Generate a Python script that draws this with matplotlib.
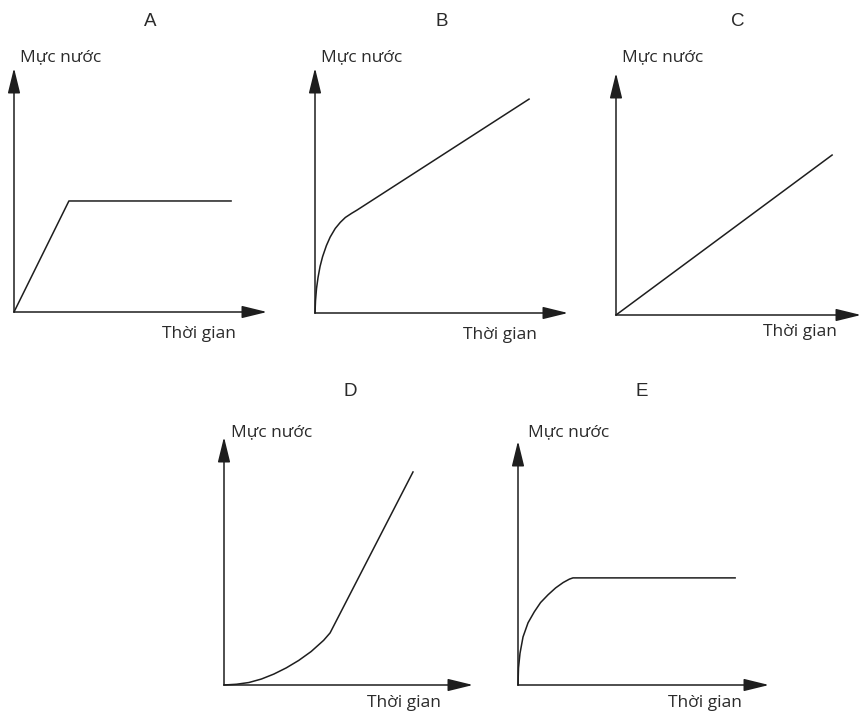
import matplotlib
matplotlib.use("Agg")
import matplotlib.pyplot as plt

W, H = 863, 716

panel_names = ["A", "B", "C", "D", "E"]
y_label = "Mực nước"
x_label = "Thời gian"

# curves, normalised to each panel's axis lengths (time fraction, level fraction)
time_A = [0.0, 0.217, 0.858]
level_A = [0.0, 0.455, 0.455]

time_B = [0.0, 0.002, 0.006, 0.012, 0.02, 0.03, 0.045, 0.06, 0.08, 0.1, 0.12, 0.145, 0.166, 0.846]
level_B = [0.0, 0.05, 0.1, 0.145, 0.19, 0.23, 0.275, 0.31, 0.345, 0.37, 0.39, 0.407, 0.42, 0.873]

time_C = [0.0, 0.882]
level_C = [0.0, 0.661]

time_D = [0.0, 0.05, 0.1, 0.15, 0.2, 0.25, 0.3, 0.35, 0.4, 0.426, 0.759]
level_D = [0.0, 0.003, 0.01, 0.024, 0.044, 0.069, 0.099, 0.135, 0.18, 0.21, 0.859]

time_E = [0.0, 0.002, 0.008, 0.02, 0.04, 0.065, 0.09, 0.12, 0.15, 0.18, 0.205, 0.219, 0.865]
level_E = [0.0, 0.07, 0.13, 0.197, 0.255, 0.30, 0.338, 0.37, 0.398, 0.42, 0.434, 0.439, 0.439]

curves = [(time_A, level_A), (time_B, level_B), (time_C, level_C),
          (time_D, level_D), (time_E, level_E)]

# layout in pixels: origin x, origin y, x-arrow tip, y-arrow tip
boxes = [
    (14, 312, 267, 68),
    (315, 313, 568, 68),
    (616, 315, 861, 73),
    (224, 685, 473, 437),
    (518, 685, 769, 441),
]
title_pos = [(150, 21), (442, 21), (738, 21), (350, 391), (642, 391)]
ylab_pos = [(20, 57), (321, 57), (622, 57), (231, 432), (528, 432)]
xlab_pos = [(162, 334), (463, 335), (763, 332), (367, 703), (668, 703)]

plt.rcParams['font.family'] = ['Open Sans', 'DejaVu Sans']

fig = plt.figure(figsize=(W / 100, H / 100), dpi=100)
fig.patch.set_facecolor("white")

ink = "#1e1e1e"
txt = "#2a2a2a"

for i, name in enumerate(panel_names):
    ox, oy, xt, yt = boxes[i]
    ax = fig.add_axes([ox / W, 1 - oy / H, (xt - ox) / W, (oy - yt) / H])
    ax.set_xlim(0, 1)
    ax.set_ylim(0, 1)
    ax.axis("off")
    ax.patch.set_alpha(0)
    t, lv = curves[i]
    ax.plot(t, lv, color=ink, lw=1.1, solid_joinstyle="round", clip_on=False)
    for tip in [(1, 0), (0, 1)]:
        ax.annotate("", xy=tip, xytext=(0, 0), xycoords="axes fraction",
                    textcoords="axes fraction",
                    arrowprops=dict(arrowstyle="-|>,head_length=1.55,head_width=0.38",
                                    color=ink, lw=1.1, shrinkA=0, shrinkB=0,
                                    mutation_scale=10))
    tx, ty = title_pos[i]
    fig.text(tx / W, 1 - ty / H, name, ha="center", va="center",
             fontsize=13.5, color=txt, family=["Liberation Sans", "DejaVu Sans"])
    lx, ly = ylab_pos[i]
    fig.text(lx / W, 1 - ly / H, y_label, ha="left", va="center",
             fontsize=12.5, color=txt)
    qx, qy = xlab_pos[i]
    fig.text(qx / W, 1 - qy / H, x_label, ha="left", va="center",
             fontsize=12.5, color=txt)

fig.savefig("out.png", dpi=100, facecolor="white")
